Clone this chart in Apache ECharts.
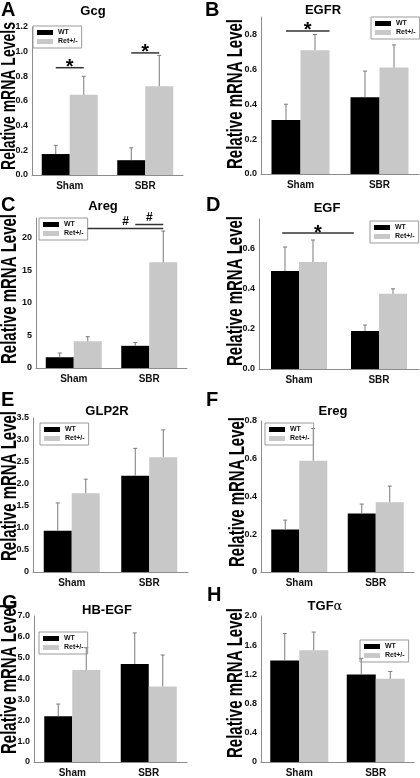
<!DOCTYPE html>
<html>
<head>
<meta charset="utf-8">
<script src="https://cdn.jsdelivr.net/npm/echarts@6/dist/echarts.min.js"></script>
<style>
html,body{margin:0;padding:0;background:#fff;}
#c{width:420px;height:778px;}
</style>
</head>
<body>
<div id="c"></div>
<script>
// ---------------- DATA ----------------
const categories = ['Sham', 'SBR'];
const seriesNames = ['WT', 'Ret+/-'];
const panelLetters = ['A', 'B', 'C', 'D', 'E', 'F', 'G', 'H'];
const panelTitles = ['Gcg', 'EGFR', 'Areg', 'EGF', 'GLP2R', 'Ereg', 'HB-EGF', 'TGFα'];
const yTitles = ['Relative mRNA Levels', 'Relative mRNA Level', 'Relative mRNA Level', 'Relative mRNA Level',
                 'Relative mRNA Level', 'Relative mRNA Level', 'Relative mRNA Level', 'Relative mRNA Level'];
// means [Sham, SBR]
const wtMeans  = [[0.17, 0.12], [0.31, 0.44], [1.65, 3.4], [0.49, 0.19], [0.94, 2.19], [0.225, 0.31], [2.19, 4.70], [1.39, 1.20]];
const retMeans = [[0.65, 0.72], [0.71, 0.61], [4.1, 16.2], [0.535, 0.376], [1.79, 2.61], [0.59, 0.37], [4.41, 3.62], [1.53, 1.14]];
// error (SEM) [Sham, SBR]
const wtErrors  = [[0.07, 0.10], [0.09, 0.15], [0.65, 0.5], [0.12, 0.03], [0.63, 0.62], [0.05, 0.05], [0.59, 1.49], [0.37, 0.22]];
const retErrors = [[0.15, 0.25], [0.09, 0.13], [0.7, 4.8], [0.11, 0.025], [0.32, 0.62], [0.17, 0.085], [1.07, 1.51], [0.25, 0.10]];
// y axis ticks
const yMax   = [1.2, 0.9, 23, 0.75, 3.5, 0.8, 7, 2.0];
const yStep  = [0.2, 0.2, 5, 0.2, 0.5, 0.2, 1, 0.4];
const yDecimals = [1, 1, 0, 1, 1, 1, 1, 1];
const yZeroLabel = ['0.0', '0.0', '0', '0.0', '0', '0', '0', '0'];
const yShowMax = [true, false, false, false, true, true, true, true];
// significance markers: [fromCategory, fromBarPos, toCategory, toBarPos, yValue, symbol]
const sigLines = [
  [[0, -0.5, 0, 0.5, 0.87, '*'], [1, -0.5, 1, 0.5, 0.99, '*']],
  [[0, -0.5, 0, 1.0, 0.82, '*']],
  [[0, 0.5, 1, 0.5, 21.4, '#'], [1, -0.5, 1, 0.5, 22.0, '#']],
  [[0, -0.6, 1, -0.9, 0.68, '*']],
  [], [], [], []
];

// ---------------- LAYOUT ----------------
const grids = [
  {left: 32, top: 27, width: 151, height: 148},
  {left: 261, top: 17, width: 158, height: 157},
  {left: 36, top: 218, width: 151, height: 150},
  {left: 259, top: 219, width: 160, height: 150},
  {left: 33, top: 418, width: 155, height: 154},
  {left: 261, top: 421, width: 153, height: 151},
  {left: 34, top: 616, width: 153, height: 147},
  {left: 261, top: 616, width: 153, height: 146}
];
const barW = [28, 29, 28, 28, 28, 28, 28, 29];
const titlePos = [[93, 13], [323, 12], [103, 208], [327, 210], [107, 413], [333, 413], [107, 612], [325, 608]];
const letterPos = [[1, 0], [205, 0], [1, 195], [206, 195], [1, 390], [206, 390], [2, 593], [207, 585]];
const yTitlePos = [[9, 96], [236, 94], [9.5, 289], [236, 291], [9.5, 486], [238, 492], [9.5, 679], [236, 683]];
const legendPos = [[33, 26], [371, 17], [39, 218], [370, 221], [40, 423], [265, 423], [39, 632], [360, 640]];

const FONT = '"Liberation Sans", Arial, Helvetica, sans-serif';
const WT_COLOR = '#000000';
const RET_COLOR = '#c8c8c8';
const AXIS_COLOR = '#8c8c8c';

const option = {
  backgroundColor: '#fff',
  animation: false,
  grid: [], xAxis: [], yAxis: [], series: [], legend: [], title: [], graphic: []
};

function fmt(i, v) {
  if (Math.abs(v) < 1e-9) return yZeroLabel[i];
  return v.toFixed(yDecimals[i]);
}

for (let i = 0; i < 8; i++) {
  const g = grids[i];
  option.grid.push({left: g.left, top: g.top, width: g.width, height: g.height, containLabel: false});
  option.xAxis.push({
    type: 'category', gridIndex: i, data: categories,
    axisLine: {lineStyle: {color: AXIS_COLOR, width: 1}},
    axisTick: {show: false},
    axisLabel: {fontFamily: FONT, fontWeight: 'bold', fontSize: 10, color: '#111', margin: 6}
  });
  option.yAxis.push({
    type: 'value', gridIndex: i, min: 0, max: yMax[i], interval: yStep[i],
    splitLine: {show: false},
    axisLine: {show: true, lineStyle: {color: AXIS_COLOR, width: 1}},
    axisTick: {show: false},
    axisLabel: {
      fontFamily: FONT, fontWeight: 'bold', fontSize: 9, color: '#111', margin: 4,
      showMaxLabel: yShowMax[i],
      formatter: (v) => fmt(i, v)
    }
  });
  const bw = barW[i];
  option.series.push({
    type: 'bar', name: seriesNames[0], xAxisIndex: i, yAxisIndex: i,
    data: wtMeans[i], barWidth: bw, barGap: '0%',
    itemStyle: {color: WT_COLOR}, z: 2
  });
  option.series.push({
    type: 'bar', name: seriesNames[1], xAxisIndex: i, yAxisIndex: i,
    data: retMeans[i], barWidth: bw, barGap: '0%',
    itemStyle: {color: RET_COLOR}, z: 2
  });
  // error bars
  [[wtMeans, wtErrors, -0.5], [retMeans, retErrors, 0.5]].forEach(([means, errs, pos]) => {
    option.series.push({
      type: 'custom', xAxisIndex: i, yAxisIndex: i, z: 3,
      silent: true,
      data: means[i].map((m, k) => [k, m, errs[i][k]]),
      renderItem: (params, api) => {
        const c = api.value(0), m = api.value(1), e = api.value(2);
        const base = api.coord([c, m]);
        const top = api.coord([c, m + e]);
        const x = base[0] + pos * bw;
        return {
          type: 'group', children: [
            {type: 'line', shape: {x1: x, y1: base[1], x2: x, y2: top[1]}, style: {stroke: '#7a7a7a', lineWidth: 1}},
            {type: 'line', shape: {x1: x - 2, y1: top[1], x2: x + 2, y2: top[1]}, style: {stroke: '#7a7a7a', lineWidth: 1}}
          ]
        };
      }
    });
  });
  // significance markers
  if (sigLines[i].length) {
    const list = sigLines[i];
    option.series.push({
      type: 'custom', xAxisIndex: i, yAxisIndex: i, z: 4, silent: true,
      data: list.map(s => [s[0], s[4]]),
      renderItem: (params, api) => {
        const s = list[params.dataIndex];
        const p1 = api.coord([s[0], s[4]]);
        const p2 = api.coord([s[2], s[4]]);
        const x1 = p1[0] + s[1] * bw;
        const x2 = p2[0] + s[3] * bw;
        const y = p1[1];
        const isStar = s[5] === '*';
        return {
          type: 'group', children: [
            {type: 'line', shape: {x1: x1, y1: y, x2: x2, y2: y}, style: {stroke: '#333', lineWidth: 1.5}},
            {type: 'text', x: (x1 + x2) / 2, y: isStar ? y : y - 1,
             style: {text: s[5], font: 'bold ' + (isStar ? 20 : 12) + 'px ' + FONT, fill: '#000',
                     align: 'center', verticalAlign: isStar ? 'middle' : 'bottom'}}
          ]
        };
      }
    });
  }
  // legend
  option.legend.push({
    data: seriesNames, orient: 'vertical',
    left: legendPos[i][0], top: legendPos[i][1],
    padding: [3, 4, 3, 4], itemGap: 2, itemWidth: 16, itemHeight: 5,
    icon: 'rect', borderColor: '#999', borderWidth: 1, borderRadius: 0,
    selectedMode: false,
    textStyle: {fontFamily: FONT, fontWeight: 'bold', fontSize: 7, color: '#111'}
  });
  // panel title
  const t = panelTitles[i];
  const isTGF = t === 'TGFα';
  option.title.push({
    text: isTGF ? '{a|TGF}{b|α}' : t,
    left: titlePos[i][0], top: titlePos[i][1] - 8, textAlign: 'center', padding: 0,
    textStyle: isTGF ? {
      rich: {
        a: {fontFamily: FONT, fontWeight: 'bold', fontSize: 13, color: '#000'},
        b: {fontFamily: '"DejaVu Serif", "Liberation Serif", serif', fontWeight: 'normal', fontSize: 13, color: '#000'}
      }
    } : {fontFamily: FONT, fontWeight: 'bold', fontSize: 13, color: '#000'}
  });
  // panel letter
  option.graphic.push({
    type: 'text', left: letterPos[i][0], top: letterPos[i][1],
    style: {text: panelLetters[i], font: 'bold 20px ' + FONT, fill: '#000'}
  });
  // y axis title (stretched like in the original figure)
  option.graphic.push({
    type: 'text', x: yTitlePos[i][0], y: yTitlePos[i][1], rotation: Math.PI / 2,
    scaleY: 1.45,
    style: {text: yTitles[i], font: 'bold ' + (i === 0 ? 14 : 15) + 'px ' + FONT, fill: '#000',
            align: 'center', verticalAlign: 'middle'}
  });
}

const chart = echarts.init(document.getElementById('c'), null, {renderer: 'canvas', width: 420, height: 778});
chart.setOption(option);
</script>
</body>
</html>
